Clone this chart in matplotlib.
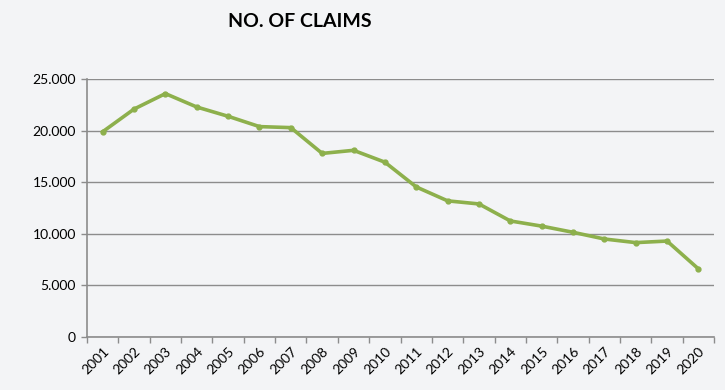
import matplotlib
matplotlib.use("Agg")
import matplotlib.pyplot as plt
from matplotlib.ticker import FuncFormatter, FixedLocator

plt.rcParams['font.family'] = ['Lato', 'DejaVu Sans']

years = [str(y) for y in range(2001, 2021)]
claims = [19900, 22100, 23600, 22300, 21400, 20400, 20300, 17800, 18100, 16950,
          14550, 13200, 12900, 11250, 10750, 10150, 9500, 9150, 9300, 6600]
y_ticks = [0, 5000, 10000, 15000, 20000, 25000]

bg = '#f3f4f6'
line_color = '#8db04c'
grid_color = '#8c8c8c'

fig = plt.figure(figsize=(7.25, 3.9), dpi=100, facecolor=bg)
ax = fig.add_axes([0.12, 0.136, 0.865, 0.661])
ax.set_facecolor(bg)

x = list(range(len(years)))
ax.plot(x, claims, color=line_color, linewidth=2.6, marker='o', markersize=3.5,
        solid_joinstyle='round')

ax.set_xlim(-0.5, len(years) - 0.5)
ax.set_ylim(0, 25000)
ax.set_yticks(y_ticks)
ax.yaxis.set_major_formatter(FuncFormatter(lambda v, p: f"{int(v):,}".replace(',', '.')))
ax.grid(axis='y', color=grid_color, linewidth=1)
ax.set_axisbelow(True)

ax.set_xticks(x)
ax.set_xticklabels(years, rotation=45, ha='right', rotation_mode='anchor', fontsize=10)
ax.tick_params(axis='x', which='major', length=0, pad=6)
ax.xaxis.set_minor_locator(FixedLocator([i - 0.5 for i in range(len(years) + 1)]))
ax.tick_params(axis='x', which='minor', length=4, color=grid_color, width=1)
ax.tick_params(axis='y', length=4, color=grid_color, width=1, labelsize=10, pad=4)

for s in ['top', 'right']:
    ax.spines[s].set_visible(False)
for s in ['left', 'bottom']:
    ax.spines[s].set_color(grid_color)
    ax.spines[s].set_linewidth(1.2)

fig.text(0.414, 0.944, 'NO. OF CLAIMS', ha='center', va='center',
         fontsize=14, fontweight='bold')

fig.savefig('out.png', dpi=100, facecolor=bg)
